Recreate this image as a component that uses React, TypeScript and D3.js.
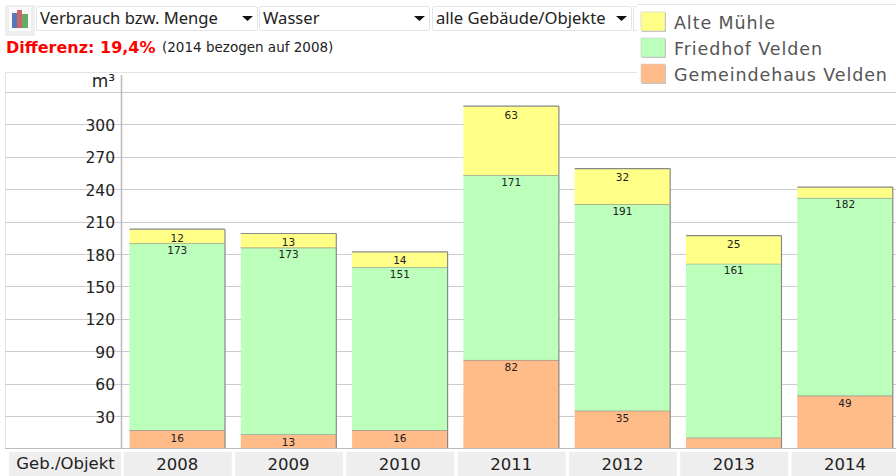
import React from "react";
import * as d3 from "d3";

const years = ["2008", "2009", "2010", "2011", "2012", "2013", "2014"];
const gemeindehaus = [17, 13, 17, 82, 35, 10, 49];
const friedhof = [173, 173, 151, 171, 191, 161, 183];
const alteMuehle = [13, 13, 14, 64, 33, 26, 10];
const labelsGemeindehaus = ["16", "13", "16", "82", "35", "", "49"];
const labelsFriedhof = ["173", "173", "151", "171", "191", "161", "182"];
const labelsAlte = ["12", "13", "14", "63", "32", "25", ""];
const seriesNames = ["Alte Mühle", "Friedhof Velden", "Gemeindehaus Velden"];
const seriesColors = ["#ffff88", "#bbffbb", "#ffbb88"];
const ticks = [30, 60, 90, 120, 150, 180, 210, 240, 270, 300, 330];
const selects = [
  { label: "Verbrauch bzw. Menge", x: 36, w: 222 },
  { label: "Wasser", x: 259, w: 171 },
  { label: "alle Gebäude/Objekte", x: 432, w: 200 },
];

const W = 896, H = 476;
const y = d3.scaleLinear().domain([0, 330]).range([448.5, 92]);
const x = d3.scaleBand().domain(years).range([121.6, 900.7]).paddingInner(0.142).paddingOuter(0.071);
const font = "'DejaVu Sans', Verdana, sans-serif";
const uiFont = "'Noto Sans', Tahoma, sans-serif";

const rows = years.map((yr, i) => ({ year: yr, g: gemeindehaus[i], f: friedhof[i], a: alteMuehle[i] }));
const stack = d3.stack<any>().keys(["g", "f", "a"])(rows);
const labelSets = [labelsGemeindehaus, labelsFriedhof, labelsAlte];
const colorsByLayer = [seriesColors[2], seriesColors[1], seriesColors[0]];
const labelOffset = [11.5, 10.5, 12.5];

export default function App() {
  return (
    <svg width={W} height={H} style={{ position: "absolute", left: 0, top: 0, background: "#fff" }}>
      {/* toolbar */}
      <rect x={5} y={5} width={30} height={31} fill="#eeeeee" />
      <rect x={9} y={7} width={22} height={24} fill="#fafafa" />
      <rect x={12} y={13} width={5} height={15} fill="#5577bb" />
      <rect x={17} y={10} width={5} height={18} fill="#cc6666" />
      <rect x={22} y={14} width={6} height={14} fill="#66aa66" />
      {selects.map((s) => (
        <g key={s.label}>
          <rect x={s.x + 0.5} y={6.5} width={s.w - 1} height={24} rx={2} fill="#fff" stroke="#dfe3ea" />
          <text x={s.x + 4} y={24} fontFamily={uiFont} fontSize={16.6} fill="#222">{s.label}</text>
          <path d={`M${s.x + s.w - 16},16 h11 l-5.5,5 z`} fill="#111" />
        </g>
      ))}
      <rect x={633.5} y={6.5} width={10} height={24} fill="#fff" stroke="#dfe3ea" />
      <text x={6} y={53} fontFamily={font} fontSize={16} fontWeight="bold" fill="#ff0000">Differenz: 19,4%</text>
      <text x={162} y={52} fontFamily={font} fontSize={13.5} fill="#222">(2014 bezogen auf 2008)</text>

      {/* plot frame and grid */}
      <line x1={5} x2={W} y1={72.5} y2={72.5} stroke="#e4e4e4" />
      <line x1={5.5} x2={5.5} y1={72} y2={448} stroke="#e4e4e4" />
      {ticks.map((t) => (
        <line key={t} x1={5} x2={W} y1={Math.round(y(t)) + 0.5} y2={Math.round(y(t)) + 0.5} stroke="#cccccc" />
      ))}
      <line x1={121.5} x2={121.5} y1={75} y2={448} stroke="#bbbbbb" strokeWidth={1.5} />
      {ticks.filter((t) => t < 330).map((t) => (
        <text key={t} x={115} y={y(t) + 6.5} textAnchor="end" fontFamily={font} fontSize={15.5} fill="#222">{t}</text>
      ))}
      <text x={115} y={87} textAnchor="end" fontFamily={font} fontSize={17} fill="#222">m³</text>

      {/* bars */}
      {stack.map((layer, li) => (
        <g key={li}>
          {layer.map((d, i) => {
            const bx = x(years[i])!;
            const top = y(d[1]);
            const bot = y(d[0]);
            return (
              <g key={i}>
                <rect x={bx} y={top} width={x.bandwidth()} height={bot - top} fill={colorsByLayer[li]} />
                <line x1={bx} x2={bx + x.bandwidth()} y1={top} y2={top} stroke="#888888" strokeWidth={1.2} />
                <line x1={bx + x.bandwidth()} x2={bx + x.bandwidth()} y1={top} y2={bot} stroke="#888888" strokeWidth={1.2} />
                {labelSets[li][i] && (
                  <text x={bx + x.bandwidth() / 2} y={top + labelOffset[li]} textAnchor="middle" fontFamily={font} fontSize={10.5} fill="#222">
                    {labelSets[li][i]}
                  </text>
                )}
              </g>
            );
          })}
        </g>
      ))}
      <line x1={5} x2={W} y1={448.5} y2={448.5} stroke="#bbbbbb" />

      {/* table row */}
      <rect x={9} y={452} width={112} height={24} fill="#eeeeee" />
      <text x={65.5} y={469} textAnchor="middle" fontFamily={font} fontSize={16.5} fill="#222">Geb./Objekt</text>
      {years.map((yr) => {
        const cx = x(yr)! + x.bandwidth() / 2;
        return (
          <g key={yr}>
            <rect x={cx - 53.5} y={452} width={108} height={24} fill="#eeeeee" />
            <text x={cx} y={470} textAnchor="middle" fontFamily={font} fontSize={16.5} fill="#222">{yr}</text>
          </g>
        );
      })}

      {/* legend */}
      <rect x={637} y={4} width={259} height={84} fill="#ffffff" />
      <line x1={637} x2={W} y1={4.5} y2={4.5} stroke="#e8e8e8" />
      {seriesNames.map((n, i) => (
        <g key={n}>
          <rect x={642} y={13 + i * 26} width={24} height={19} fill="#999" opacity={0.6} />
          <rect x={641} y={12 + i * 26} width={24} height={19} fill={seriesColors[i]} stroke="#cccccc" strokeWidth={0.6} />
          <text x={674} y={29 + i * 26} fontFamily={font} fontSize={17.5} letterSpacing={0.9} fill="#555555">{n}</text>
        </g>
      ))}
    </svg>
  );
}
